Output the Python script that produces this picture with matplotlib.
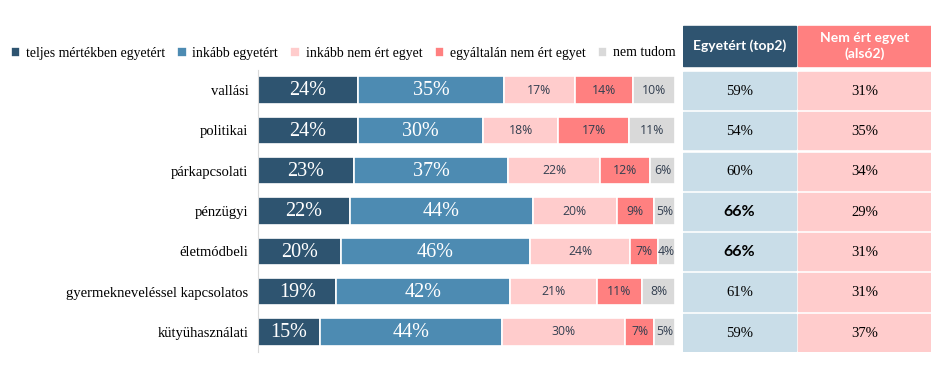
import numpy as np
import matplotlib.pyplot as plt
from matplotlib.patches import Rectangle

# data
categories = ['vallási', 'politikai', 'párkapcsolati', 'pénzügyi', 'életmódbeli',
              'gyermekneveléssel kapcsolatos', 'kütyühasználati']
teljes = [24, 24, 23, 22, 20, 19, 15]
inkabb = [35, 30, 37, 44, 46, 42, 44]
inkabb_nem = [17, 18, 22, 20, 24, 21, 30]
egyaltalan_nem = [14, 17, 12, 9, 7, 11, 7]
nem_tudom = [10, 11, 6, 5, 4, 8, 5]
top2 = [59, 54, 60, 66, 66, 61, 59]
also2 = [31, 35, 34, 29, 31, 31, 37]

series_names = ['teljes mértékben egyetért', 'inkább egyetért', 'inkább nem ért egyet',
                'egyáltalán nem ért egyet', 'nem tudom']
colors = ['#2E5470', '#4D8BB2', '#FFCCCC', '#FF8080', '#D9D9D9']
big_label = [True, True, False, False, False]

W, H = 936, 392
fig = plt.figure(figsize=(9.36, 3.92), dpi=100)

def px_axes(x0, y0, x1, y1):
    return fig.add_axes([x0 / W, 1 - y1 / H, (x1 - x0) / W, (y1 - y0) / H])

# ---- stacked bars ----
ax = px_axes(258, 70, 675, 352)
data = np.array([teljes, inkabb, inkabb_nem, egyaltalan_nem, nem_tudom], dtype=float)
shares = data / data.sum(axis=0) * 100  # rows sum to 100-101 because of rounding
y = np.arange(len(categories))
left = np.zeros(len(categories))
for k in range(len(series_names)):
    ax.barh(y, shares[k], left=left, height=0.68, color=colors[k],
            edgecolor='white', linewidth=1.2, label=series_names[k])
    for i in range(len(categories)):
        cx = left[i] + shares[k][i] / 2
        if big_label[k]:
            ax.text(cx, y[i] + 0.02, f'{int(data[k][i])}%', ha='center', va='center',
                    color='white', fontsize=14.5, family='Liberation Serif')
        else:
            ax.text(cx, y[i], f'{int(data[k][i])}%', ha='center', va='center',
                    color='#333F50', fontsize=8.8, family='Open Sans')
    left += shares[k]

ax.set_xlim(0, 100)
ax.set_ylim(6.5, -0.5)
ax.set_xticks([])
ax.set_yticks(y)
ax.set_yticklabels(categories, family='Liberation Serif', fontsize=10.5)
ax.tick_params(axis='y', length=0, pad=7)
for s in ['top', 'right', 'bottom']:
    ax.spines[s].set_visible(False)
ax.spines['left'].set_color('#D9D9D9')

# legend
handles, labels = ax.get_legend_handles_labels()
fig.legend(handles, labels, loc='center', bbox_to_anchor=(343 / W, 1 - 53 / H), ncol=5,
           frameon=False, prop={'family': 'Liberation Serif', 'size': 9.9},
           handlelength=0.7, handleheight=0.7, handletextpad=0.4, columnspacing=0.9)

# ---- summary table ----
tx = px_axes(683, 22, 931, 352)
row_h = 282 / 7
tx.set_xlim(683, 931)
tx.set_ylim(6.5, -0.5 - 48 / row_h)
tx.axis('off')
cols = [(683, 796), (798, 931)]
head_colors = ['#2F5470', '#FF8080']
cell_colors = ['#C9DDE8', '#FFCCCC']
headers = ['Egyetért (top2)', 'Nem ért egyet\n(alsó2)']
for c, (x0, x1) in enumerate(cols):
    top = -0.5 - 44 / row_h
    tx.add_patch(Rectangle((x0, top), x1 - x0, -0.6 - top, color=head_colors[c]))
    tx.text((x0 + x1) / 2, (top - 0.6) / 2, headers[c], ha='center', va='center',
            color='white', fontsize=10, fontweight='bold', family='Lato',
            linespacing=1.35)
best = max(top2)
for i in range(len(categories)):
    for c, (x0, x1) in enumerate(cols):
        tx.add_patch(Rectangle((x0, i - 0.45), x1 - x0, 0.92, color=cell_colors[c]))
    vals = [top2[i], also2[i]]
    for c, (x0, x1) in enumerate(cols):
        v = vals[c]
        if c == 0 and v == best:
            tx.text((x0 + x1) / 2, i + 0.03, f'{v}%', ha='center', va='center',
                    fontsize=11.5, fontweight='bold', family='Lato', color='black')
        else:
            tx.text((x0 + x1) / 2, i + 0.03, f'{v}%', ha='center', va='center',
                    fontsize=10.5, family='Liberation Serif', color='black')

fig.savefig('out.png', dpi=100)
